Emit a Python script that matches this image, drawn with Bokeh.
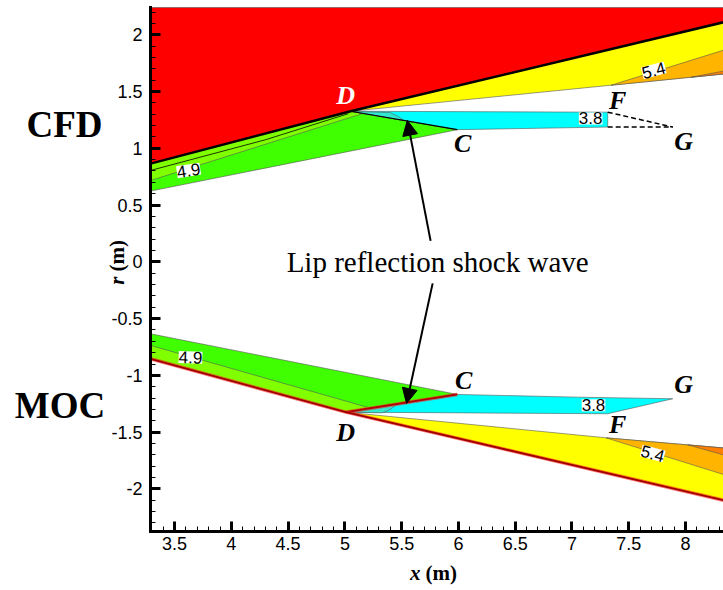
import math
from bokeh.plotting import figure
from bokeh.models import (Label, Arrow, NormalHead, SingleIntervalTicker, LinearAxis,
                          CustomJSTickFormatter, Range1d)
from bokeh.embed import file_html
from bokeh.resources import INLINE

# ---------------- data (metres) ----------------
x_lim = [3.288, 8.335]          # axis extent
y_lim = [-2.375, 2.24]
view_x = [1.9664, 8.335]        # whole canvas in data units (room for outside texts)
view_y = [-2.8948, 2.3017]

# CFD (upper half)
cfd_cowl_x = [3.288, 5.05, 8.335]
cfd_cowl_y = [0.865, 1.326, 2.11]
cfd_red_x = [3.288, 5.05, 8.335, 8.335, 3.288]
cfd_red_y = [0.865, 1.326, 2.11, 2.24, 2.24]
cfd_green_x = [3.288, 3.288, 5.05, 5.99]
cfd_green_y = [0.623, 0.865, 1.326, 1.164]
cfd_lgreen_x = [3.288, 3.288, 5.05, 5.16]
cfd_lgreen_y = [0.716, 0.865, 1.326, 1.307]
cfd_c49_x = [3.288, 4.3, 5.03]
cfd_c49_y = [0.805, 1.075, 1.305]
cfd_cyan_x = [5.05, 7.315, 7.315, 5.99]
cfd_cyan_y = [1.326, 1.318, 1.187, 1.164]
cfd_teal_x = [5.05, 5.40, 5.47, 5.52]
cfd_teal_y = [1.326, 1.314, 1.28, 1.245]
cfd_yellow_x = [5.05, 8.335, 8.335]
cfd_yellow_y = [1.326, 2.11, 1.655]
cfd_orange_x = [7.344, 8.335, 8.335]
cfd_orange_y = [1.555, 1.864, 1.655]
cfd_dorange_x = [8.05, 8.335, 8.335]
cfd_dorange_y = [1.626, 1.68, 1.655]
cfd_dash1_x = [7.315, 7.888]
cfd_dash1_y = [1.318, 1.187]
cfd_dash2_x = [7.315, 7.888]
cfd_dash2_y = [1.187, 1.187]

# MOC (lower half)
moc_cowl_x = [3.288, 5.008, 8.335]
moc_cowl_y = [-0.854, -1.324, -2.10]
moc_green_x = [3.288, 5.99, 5.008, 3.288]
moc_green_y = [-0.634, -1.168, -1.324, -0.854]
moc_lgreen_x = [3.288, 5.228, 5.008, 3.288]
moc_lgreen_y = [-0.736, -1.289, -1.324, -0.854]
moc_shock_x = [5.008, 5.99]
moc_shock_y = [-1.324, -1.168]
moc_cyan_x = [5.008, 5.99, 7.05, 7.888, 7.315]
moc_cyan_y = [-1.324, -1.168, -1.192, -1.206, -1.338]
moc_teal_x = [5.008, 5.46, 5.40, 5.33]
moc_teal_y = [-1.324, -1.252, -1.30, -1.33]
moc_yellow_x = [5.008, 7.3, 8.335, 8.335]
moc_yellow_y = [-1.324, -1.55, -1.64, -2.10]
moc_orange_x = [7.3, 8.335, 8.335]
moc_orange_y = [-1.55, -1.64, -1.873]
moc_dorange_x = [8.02, 8.335, 8.335]
moc_dorange_y = [-1.612, -1.64, -1.70]

# contour value labels: (text, x, y, angle)
value_labels = [("4.9", 3.623, 0.805, 0.15), ("4.9", 3.64, -0.841, -0.03),
                ("3.8", 7.165, 1.263, 0.0), ("3.8", 7.19, -1.264, 0.0),
                ("5.4", 7.72, 1.687, 0.26), ("5.4", 7.711, -1.688, -0.26)]
# point letters: (text, x, y, colour)
point_labels = [("D", 5.006, 1.466, "white"), ("F", 7.403, 1.422, "black"),
                ("C", 6.037, 1.044, "black"), ("G", 7.984, 1.06, "black"),
                ("C", 6.046, -1.044, "black"), ("G", 7.984, -1.079, "black"),
                ("D", 5.006, -1.503, "black"), ("F", 7.403, -1.432, "black")]
# arrows (start -> tip)
arrows = [(5.755, 0.185, 5.55, 1.246), (5.773, -0.19, 5.543, -1.248)]
# side titles: (text, x, y)
side_titles = [("CFD", 2.53, 1.21), ("MOC", 2.49, -1.264)]

RED, YEL, GRN, LGRN = "#ff0000", "#ffff00", "#40ff00", "#80ff00"
CYAN, TEAL, ORG, DORG = "#00ffff", "#30e8d0", "#ffb400", "#ff8000"

SERIF = "Liberation Serif"
SANS = "Liberation Sans"

p = figure(width=723, height=590, x_range=Range1d(*view_x), y_range=Range1d(*view_y),
           output_backend="svg", toolbar_location=None,
           x_axis_location=None, y_axis_location=None,
           min_border_left=0, min_border_right=0, min_border_top=0,
           min_border_bottom=0)
p.outline_line_color = None
p.grid.visible = False

def poly(xs, ys, color):
    p.patch(xs, ys, fill_color=color, line_color="#555555", line_width=0.6)

poly(cfd_red_x, cfd_red_y, RED)
poly(cfd_green_x, cfd_green_y, GRN)
poly(cfd_lgreen_x, cfd_lgreen_y, LGRN)
poly(cfd_yellow_x, cfd_yellow_y, YEL)
poly(cfd_orange_x, cfd_orange_y, ORG)
poly(cfd_dorange_x, cfd_dorange_y, DORG)
poly(cfd_cyan_x, cfd_cyan_y, CYAN)
poly(cfd_teal_x, cfd_teal_y, TEAL)
p.line(cfd_c49_x, cfd_c49_y, line_color="black", line_width=0.8)
p.line([cfd_cyan_x[0], cfd_cyan_x[3]], [cfd_cyan_y[0], cfd_cyan_y[3]],
       line_color="black", line_width=1.2)
p.line(cfd_cowl_x, cfd_cowl_y, line_color="black", line_width=2.5)
p.line(cfd_dash1_x, cfd_dash1_y, line_color="black", line_width=1.5, line_dash="5 3")
p.line(cfd_dash2_x, cfd_dash2_y, line_color="black", line_width=1.5, line_dash="5 3")

poly(moc_green_x, moc_green_y, GRN)
poly(moc_lgreen_x, moc_lgreen_y, LGRN)
poly(moc_yellow_x, moc_yellow_y, YEL)
poly(moc_orange_x, moc_orange_y, ORG)
poly(moc_dorange_x, moc_dorange_y, DORG)
poly(moc_cyan_x, moc_cyan_y, CYAN)
poly(moc_teal_x, moc_teal_y, TEAL)
p.line(moc_shock_x, moc_shock_y, line_color="#ff2020", line_width=3.5, line_alpha=0.6)
p.line(moc_shock_x, moc_shock_y, line_color="#b00000", line_width=1.8)
p.line(moc_cowl_x, moc_cowl_y, line_color="#ff2020", line_width=3.5, line_alpha=0.6)
p.line(moc_cowl_x, moc_cowl_y, line_color="#a00000", line_width=1.8)

for t, x, y, a in value_labels:
    p.add_layout(Label(x=x, y=y, text=t, angle=a, text_font=SANS, text_font_size="17px",
                       text_align="center", text_baseline="middle",
                       background_fill_color="white", text_color="black"))

for t, x, y, c in point_labels:
    p.add_layout(Label(x=x, y=y, text=t, text_font=SERIF, text_font_size="26px",
                       text_font_style="bold italic", text_color=c,
                       text_align="center", text_baseline="middle"))

for xs, ys, xe, ye in arrows:
    p.add_layout(Arrow(end=NormalHead(size=15, fill_color="black", line_color="black"),
                       x_start=xs, y_start=ys, x_end=xe, y_end=ye,
                       line_width=2, line_color="black"))

p.add_layout(Label(x=5.817, y=-0.005, text="Lip reflection shock wave", text_font=SERIF,
                   text_font_size="29px", text_align="center", text_baseline="middle",
                   background_fill_color="white", text_color="black"))

for t, x, y in side_titles:
    p.add_layout(Label(x=x, y=y, text=t, text_font=SERIF, text_font_size="37px",
                       text_font_style="bold", text_align="center", text_baseline="middle",
                       text_color="black"))

# axis titles
p.add_layout(Label(x=2.995, y=-0.13, text="r", angle=math.pi / 2, text_font=SERIF,
                   text_font_size="21px", text_font_style="bold italic",
                   text_align="right", text_baseline="middle", text_color="black"))
p.add_layout(Label(x=2.995, y=-0.085, text="(m)", angle=math.pi / 2, text_font=SERIF,
                   text_font_size="21px", text_font_style="bold",
                   text_align="left", text_baseline="middle", text_color="black"))
p.add_layout(Label(x=5.667, y=-2.745, text="x", text_font=SERIF, text_font_size="21px",
                   text_font_style="bold italic", text_align="right", text_baseline="middle",
                   text_color="black"))
p.add_layout(Label(x=5.711, y=-2.745, text="(m)", text_font=SERIF, text_font_size="21px",
                   text_font_style="bold", text_align="left", text_baseline="middle",
                   text_color="black"))

fmt = CustomJSTickFormatter(code="return String(Math.round(tick*10)/10)")
xax = LinearAxis(fixed_location=y_lim[0], bounds=tuple(x_lim))
yax = LinearAxis(fixed_location=x_lim[0], bounds=tuple(y_lim))
for ax in (xax, yax):
    ax.ticker = SingleIntervalTicker(interval=0.5, num_minor_ticks=5)
    ax.formatter = fmt
    ax.axis_line_width = 3
    ax.axis_line_color = "black"
    ax.axis_line_cap = "square"
    ax.major_tick_in = 10
    ax.major_tick_out = 0
    ax.major_tick_line_width = 3
    ax.minor_tick_in = 5
    ax.minor_tick_out = 0
    ax.minor_tick_line_width = 1
    ax.major_label_text_font = SANS
    ax.major_label_text_font_size = "18px"
    ax.major_label_text_color = "black"
xax.major_label_standoff = 6
yax.major_label_standoff = 8
p.add_layout(xax, "below")
p.add_layout(yax, "left")

open("out.html", "w").write(file_html(p, INLINE))
